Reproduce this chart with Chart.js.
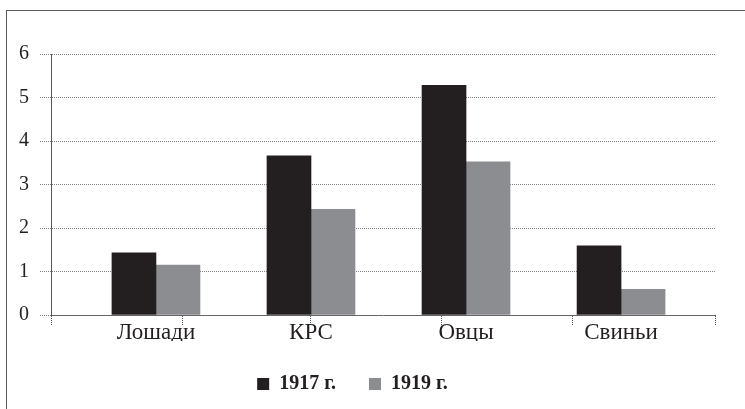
<!DOCTYPE html>
<html><head><meta charset="utf-8">
<script src="https://cdn.jsdelivr.net/npm/chart.js@4/dist/chart.umd.min.js"></script>
<style>
html,body{margin:0;padding:0;background:#fff;overflow:hidden;width:745px;height:409px;}
#frame{position:absolute;left:6px;top:10px;width:800px;height:500px;border:1px solid #5a5a5a;box-sizing:border-box;}
#c{position:absolute;left:0;top:0;}
</style></head><body>
<div id="frame"></div>
<canvas id="c" width="745" height="409"></canvas>
<script>
const categories = ['Лошади', 'КРС', 'Овцы', 'Свиньи'];
const seriesNames = ['1917 г.', '1919 г.'];
const values1917 = [1.43, 3.66, 5.28, 1.59];
const values1919 = [1.15, 2.43, 3.52, 0.59];
const yTicks = [0, 1, 2, 3, 4, 5, 6];
const xRange = [-0.677, 3.606];
const xTickMarks = [-0.677, 0.168, 1.0, 1.845, 2.684, 3.606];
const labelPositions = [0, 1, 2, 3];

const TEXT = '#231f20';
const isMark = v => xTickMarks.some(m => Math.abs(m - v) < 1e-6);
const xTickValues = Array.from(new Set(labelPositions.concat(xTickMarks))).sort((a, b) => a - b);

new Chart(document.getElementById('c'), {
  type: 'bar',
  data: {
    datasets: [
      { label: seriesNames[0], data: values1917.map((v, i) => ({ x: labelPositions[i], y: v })), backgroundColor: '#231f20', borderWidth: 0 },
      { label: seriesNames[1], data: values1919.map((v, i) => ({ x: labelPositions[i], y: v })), backgroundColor: '#8c8d90', borderWidth: 0 }
    ]
  },
  options: {
    responsive: false,
    animation: false,
    devicePixelRatio: 1,
    layout: { padding: { left: -10, right: 30, top: 54, bottom: 5 } },
    datasets: { bar: { barThickness: 44, grouped: true } },
    plugins: {
      tooltip: { enabled: false },
      legend: {
        position: 'bottom',
        labels: {
          boxWidth: 12, boxHeight: 12, padding: 33, color: TEXT,
          font: { family: 'Liberation Serif', size: 20, weight: 'bold' }
        }
      }
    },
    scales: {
      x: {
        type: 'linear',
        min: xRange[0], max: xRange[1],
        offset: false,
        afterBuildTicks: s => { s.ticks = xTickValues.map(v => ({ value: v })); },
        afterFit: s => { s.height = 26; },
        grid: {
          display: true, offset: false, drawOnChartArea: false, drawTicks: true, tickLength: 10,
          tickColor: ctx => (ctx.tick && isMark(ctx.tick.value)) ? '#555' : 'rgba(0,0,0,0)',
          tickBorderDash: [1, 1]
        },
        border: { display: true, color: '#666', width: 1, dash: [1, 1] },
        ticks: {
          autoSkip: false, maxRotation: 0, padding: -6, color: TEXT,
          font: { family: 'Liberation Serif', size: 23 },
          callback: v => { const i = labelPositions.indexOf(v); return i >= 0 ? categories[i] : ''; }
        }
      },
      y: {
        min: yTicks[0], max: yTicks[yTicks.length - 1],
        afterBuildTicks: s => { s.ticks = yTicks.map(v => ({ value: v })); },
        afterFit: s => { s.width = 61; },
        grid: { color: '#808080', tickLength: 11, tickColor: '#808080', tickBorderDash: [1, 1] },
        border: { display: true, color: '#555', width: 1, dash: [1, 1] },
        ticks: { padding: 11, color: TEXT, font: { family: 'Liberation Serif', size: 20 } }
      }
    }
  }
});
</script>
</body></html>
